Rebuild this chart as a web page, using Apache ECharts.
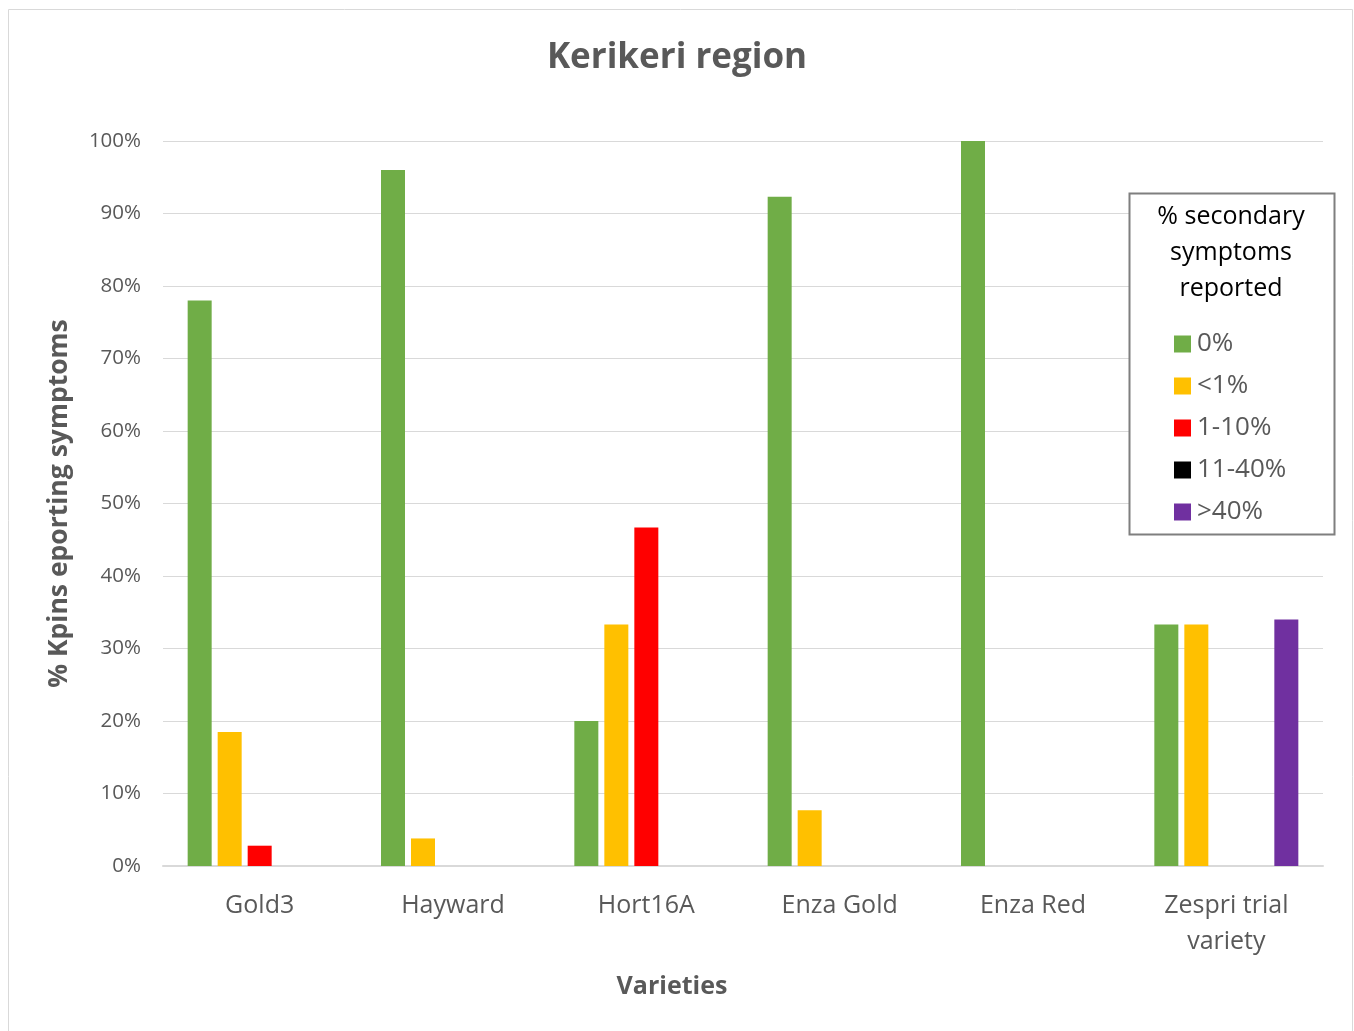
<!DOCTYPE html>
<html>
<head>
<meta charset="utf-8">
<script src="https://cdn.jsdelivr.net/npm/echarts@6/dist/echarts.min.js"></script>
<style>
  html, body { margin: 0; padding: 0; background: #fff; }
  #chart { width: 1354px; height: 1031px; }
</style>
</head>
<body>
<div id="chart"></div>
<script>
const varieties = ['Gold3', 'Hayward', 'Hort16A', 'Enza Gold', 'Enza Red', 'Zespri trial\nvariety'];
const seriesNames = ['0%', '<1%', '1-10%', '11-40%', '>40%'];
const pct0 = [78, 96, 20, 92.3, 100, 33.3];
const pctUnder1 = [18.5, 3.8, 33.3, 7.7, 0, 33.3];
const pct1to10 = [2.8, 0, 46.7, 0, 0, 0];
const pct11to40 = [0, 0, 0, 0, 0, 0];
const pctOver40 = [0, 0, 0, 0, 0, 34];
const yTicks = [0, 10, 20, 30, 40, 50, 60, 70, 80, 90, 100];

const colors = ['#70AD47', '#FFC000', '#FF0000', '#000000', '#7030A0'];
const values = [pct0, pctUnder1, pct1to10, pct11to40, pctOver40];
const font = 'Open Sans';

const chart = echarts.init(document.getElementById('chart'));

const option = {
  animation: false,
  textStyle: { fontFamily: font },
  title: {
    text: 'Kerikeri region',
    left: 'center',
    top: 36,
    textStyle: { fontFamily: font, fontSize: 35, fontWeight: 'bold', color: '#595959' }
  },
  graphic: [
    {
      type: 'rect',
      shape: { x: 8.5, y: 9.5, width: 1344, height: 1030 },
      style: { fill: 'none', stroke: '#d9d9d9', lineWidth: 1 },
      silent: true
    },
    {
      type: 'rect',
      z: 10,
      shape: { x: 1129.5, y: 193.5, width: 205, height: 341 },
      style: { fill: '#fff', stroke: '#7f7f7f', lineWidth: 2 },
      silent: true
    },
    {
      type: 'text',
      z: 11,
      x: 1231,
      y: 199,
      style: {
        text: '% secondary\nsymptoms\nreported',
        fontFamily: font,
        fontSize: 25,
        lineHeight: 36,
        fill: '#000',
        align: 'center',
        verticalAlign: 'top'
      },
      silent: true
    },
    {
      type: 'text',
      x: 672,
      y: 987,
      style: {
        text: 'Varieties',
        fontFamily: font,
        fontSize: 25,
        fontWeight: 'bold',
        fill: '#595959',
        align: 'center',
        verticalAlign: 'middle'
      },
      silent: true
    }
  ],
  legend: {
    orient: 'vertical',
    left: 1169,
    top: 321,
    z: 12,
    itemWidth: 17,
    itemHeight: 17,
    itemGap: 6,
    icon: 'rect',
    data: seriesNames,
    textStyle: { fontFamily: font, fontSize: 26, color: '#595959', lineHeight: 36, padding: [0, 0, 0, 1] }
  },
  grid: { left: 163, right: 31, top: 141, bottom: 165 },
  xAxis: {
    type: 'category',
    data: varieties,
    axisLine: { lineStyle: { color: '#d9d9d9', width: 2 } },
    axisTick: { show: false },
    axisLabel: { fontFamily: font, fontSize: 25, color: '#595959', margin: 22, lineHeight: 36 }
  },
  yAxis: {
    type: 'value',
    min: 0,
    max: 100,
    interval: 10,
    name: '% Kpins eporting symptoms',
    nameLocation: 'middle',
    nameGap: 90,
    nameTextStyle: { fontFamily: font, fontSize: 26.5, fontWeight: 'bold', color: '#595959' },
    axisLine: { show: false },
    axisTick: { show: false },
    splitLine: { lineStyle: { color: '#d9d9d9', width: 1 } },
    axisLabel: {
      fontFamily: font,
      fontSize: 20.5,
      color: '#595959',
      margin: 22,
      formatter: v => yTicks.includes(v) ? v + '%' : ''
    }
  },
  series: seriesNames.map((name, i) => ({
    name: name,
    type: 'bar',
    data: values[i],
    barWidth: 24,
    barGap: '25%',
    itemStyle: { color: colors[i] }
  }))
};

chart.setOption(option);
</script>
</body>
</html>
